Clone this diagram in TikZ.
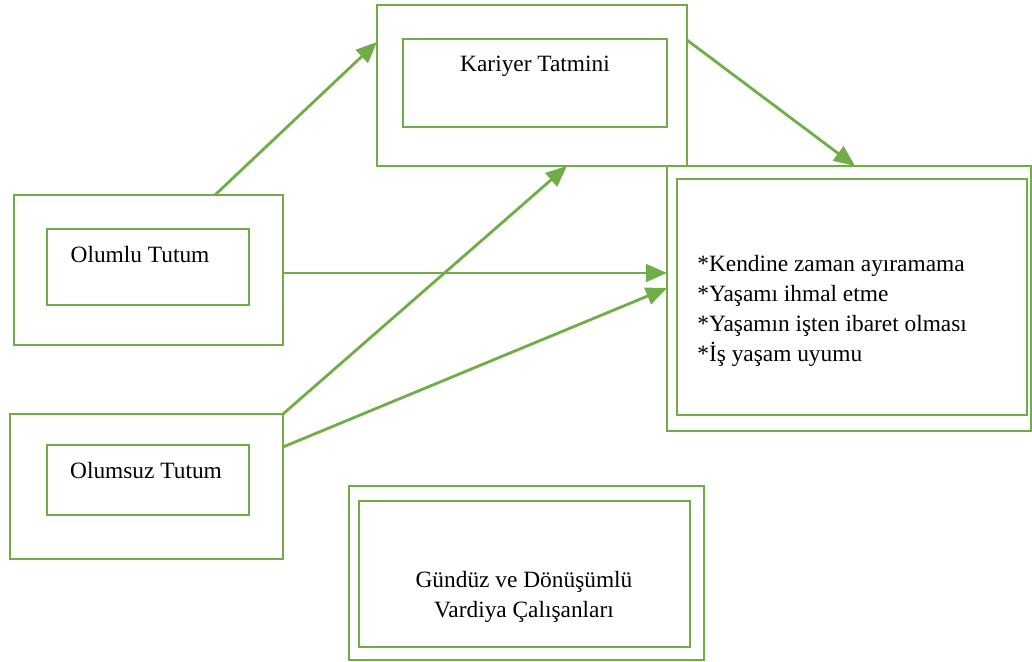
\documentclass[tikz,border=0pt]{standalone}
\usepackage{fontspec}
\setmainfont{Liberation Serif}
\usepackage{tikz}
\usetikzlibrary{arrows.meta}

\definecolor{kutuyesil}{HTML}{70AD47}

\begin{document}
\begin{tikzpicture}[
    x=0.02cm,
    y=-0.02cm,
    font=\fontsize{13.3}{17}\selectfont
]

% =========================
% Styles
% =========================
\tikzstyle{dis} = [
    rectangle, draw=kutuyesil,
    line width=1.6pt,
    inner sep=0pt, outer sep=0pt
]

\tikzstyle{ic} = [
    rectangle, draw=kutuyesil,
    line width=1.6pt,
    inner sep=0pt, outer sep=0pt
]

\tikzstyle{yazi} = [
    inner sep=0pt, text=black
]

\tikzstyle{line} = [draw=kutuyesil, line width=1.6pt,
    -{Triangle[length=12pt,width=10pt]}]

\useasboundingbox (0,0) rectangle (1032,662);

% =========================
% Nodes (FIXED POSITIONS)
% =========================
\node[dis, minimum width=6.2cm, minimum height=3.22cm] (kariyer) at (532,85.5) {};
\node[ic, minimum width=5.28cm, minimum height=1.76cm] (kariyerIc) at (535,83) {};
\node[yazi] (kariyerYazi) at (535,66) {Kariyer Tatmini};

\node[dis, minimum width=5.38cm, minimum height=3.0cm] (olumlu) at (148.5,270) {};
\node[ic, minimum width=4.04cm, minimum height=1.52cm] (olumluIc) at (148,267) {};
\node[yazi] (olumluYazi) at (140,255) {Olumlu Tutum};

\node[dis, minimum width=5.46cm, minimum height=2.9cm] (olumsuz) at (146.5,486.5) {};
\node[ic, minimum width=4.04cm, minimum height=1.4cm] (olumsuzIc) at (148,480) {};
\node[yazi] (olumsuzYazi) at (146,471) {Olumsuz Tutum};

\node[dis, minimum width=7.28cm, minimum height=5.3cm] (sonuc) at (849,298.5) {};
\node[ic, minimum width=7.0cm, minimum height=4.72cm] (sonucIc) at (852,297) {};
\node[yazi, anchor=west, align=left] (sonucYazi) at (697,311)
    {*Kendine zaman ayıramama\\*Yaşamı ihmal etme\\*Yaşamın işten ibaret olması\\*İş yaşam uyumu};

\node[dis, minimum width=7.1cm, minimum height=3.48cm] (vardiya) at (526.5,573) {};
\node[ic, minimum width=6.62cm, minimum height=2.92cm] (vardiyaIc) at (524.5,574) {};
\node[yazi, align=center] (vardiyaYazi) at (524,597)
    {Gündüz ve Dönüşümlü\\Vardiya Çalışanları};

% =========================
% Connections
% =========================
\path[line] ([xshift=1.33cm]olumlu.north) -- ([yshift=0.87cm]kariyer.west);

\path[line] ([yshift=0.91cm]kariyer.east) -- ([xshift=0.12cm]sonuc.north);

\path[line] ([yshift=-0.06cm]olumlu.east) -- ([yshift=-0.06cm]olumlu.east -| sonuc.west);

\path[line] (olumsuz.north east) -- ([xshift=0.7cm]kariyer.south);

\path[line] ([yshift=0.79cm]olumsuz.east) -- ([yshift=0.21cm]sonuc.west);

\end{tikzpicture}
\end{document}
